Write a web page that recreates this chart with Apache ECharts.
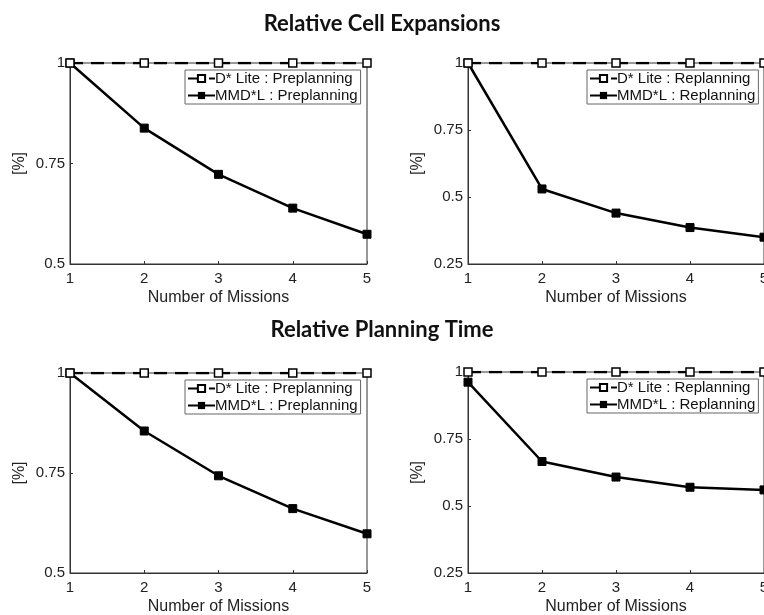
<!DOCTYPE html>
<html>
<head>
<meta charset="utf-8">
<script src="https://cdn.jsdelivr.net/npm/echarts@6/dist/echarts.min.js"></script>
<style>
  html, body { margin: 0; padding: 0; background: #fff; }
  #chart { width: 764px; height: 615px; }
</style>
</head>
<body>
<div id="chart"></div>
<script>
// 数据
const missions = [1, 2, 3, 4, 5]
const dliteCellPre = [1, 1, 1, 1, 1]
const mmdCellPre = [1, 0.838, 0.723, 0.639, 0.574]
const dliteCellRe = [1, 1, 1, 1, 1]
const mmdCellRe = [1, 0.530, 0.440, 0.386, 0.350]
const dliteTimePre = [1, 1, 1, 1, 1]
const mmdTimePre = [1, 0.855, 0.743, 0.661, 0.598]
const dliteTimeRe = [1, 1, 1, 1, 1]
const mmdTimeRe = [0.962, 0.666, 0.608, 0.570, 0.560]

const titles = ['Relative Cell Expansions', 'Relative Planning Time']
const xName = 'Number of Missions'
const yName = '[%]'

const mChart = echarts.init(document.getElementById('chart'))

const grids = [
  { left: 70, top: 63, width: 297, height: 201 },
  { left: 468, top: 63, width: 296, height: 201 },
  { left: 70, top: 373, width: 297, height: 200 },
  { left: 468, top: 372, width: 296, height: 201 }
]
const yRanges = [[0.5, 1], [0.25, 1], [0.5, 1], [0.25, 1]]
const panels = [
  { dl: dliteCellPre, mmd: mmdCellPre, tag: 'Preplanning' },
  { dl: dliteCellRe, mmd: mmdCellRe, tag: 'Replanning' },
  { dl: dliteTimePre, mmd: mmdTimePre, tag: 'Preplanning' },
  { dl: dliteTimeRe, mmd: mmdTimeRe, tag: 'Replanning' }
]

const font = 'Liberation Sans, Arial, sans-serif'
const axisColor = '#333'

const xAxis = grids.map((g, i) => ({
  type: 'value',
  gridIndex: i,
  min: 1,
  max: 5,
  interval: 1,
  name: xName,
  nameLocation: 'middle',
  nameGap: 26,
  nameTextStyle: { fontFamily: font, fontSize: 16, color: '#222' },
  axisLine: { show: true, lineStyle: { color: axisColor, width: 1 } },
  axisTick: { show: true, inside: true, length: 3, lineStyle: { color: axisColor } },
  axisLabel: { fontFamily: font, fontSize: 15, color: '#222', margin: 7 },
  splitLine: { show: false }
}))

const yAxis = grids.map((g, i) => ({
  type: 'value',
  gridIndex: i,
  min: yRanges[i][0],
  max: yRanges[i][1],
  interval: 0.25,
  name: yName,
  nameLocation: 'middle',
  nameGap: 42,
  nameTextStyle: { fontFamily: font, fontSize: 16, color: '#222' },
  axisLine: { show: true, lineStyle: { color: axisColor, width: 1 } },
  axisTick: { show: true, inside: true, length: 3, lineStyle: { color: axisColor } },
  axisLabel: {
    fontFamily: font,
    fontSize: 15,
    color: '#222',
    margin: 5,
    formatter: v => String(+v.toFixed(2))
  },
  splitLine: { show: false }
}))

const series = []
const legends = []
panels.forEach((p, i) => {
  const dlName = 'D* Lite : ' + p.tag
  const mmdName = 'MMD*L : ' + p.tag
  series.push({
    name: dlName,
    type: 'line',
    xAxisIndex: i,
    yAxisIndex: i,
    data: missions.map((m, k) => [m, p.dl[k]]),
    symbol: 'rect',
    symbolSize: 8,
    itemStyle: { color: '#fff', borderColor: '#000', borderWidth: 1.5 },
    lineStyle: { color: '#000', width: 2.5, type: [13, 8] },
    z: 3
  })
  series.push({
    name: mmdName,
    type: 'line',
    xAxisIndex: i,
    yAxisIndex: i,
    data: missions.map((m, k) => [m, p.mmd[k]]),
    symbol: 'rect',
    symbolSize: 8,
    itemStyle: { color: '#000', borderColor: '#000' },
    lineStyle: { color: '#000', width: 2.5 },
    z: 2
  })
  const g = grids[i]
  legends.push({
    data: [dlName, mmdName],
    orient: 'vertical',
    left: i % 2 === 0 ? 185 : 587,
    top: g.top + 7,
    itemWidth: 27,
    itemHeight: 9,
    itemGap: 0,
    padding: [0, 3, 0, 2],
    backgroundColor: '#fff',
    borderColor: '#666',
    borderWidth: 1,
    borderRadius: 0,
    textStyle: { fontFamily: font, fontSize: 15, color: '#111', lineHeight: 17, padding: [0, 0, 0, -5] },
    selectedMode: false
  })
})

const options = {
  backgroundColor: '#fff',
  animation: false,
  title: [
    {
      text: titles[0],
      left: 'center',
      top: 8,
      textStyle: { fontFamily: 'Lato, sans-serif', fontSize: 22, fontWeight: 'bold', color: '#111' }
    },
    {
      text: titles[1],
      left: 'center',
      top: 314,
      textStyle: { fontFamily: 'Lato, sans-serif', fontSize: 22, fontWeight: 'bold', color: '#111' }
    }
  ],
  // 方框边，不让 v6 自动收缩网格
  grid: grids.map(g => ({
    ...g,
    show: true,
    borderColor: axisColor,
    borderWidth: 1,
    containLabel: false,
    outerBoundsMode: 'none'
  })),
  legend: legends,
  xAxis,
  yAxis,
  series
}
mChart.setOption(options)
</script>
</body>
</html>
